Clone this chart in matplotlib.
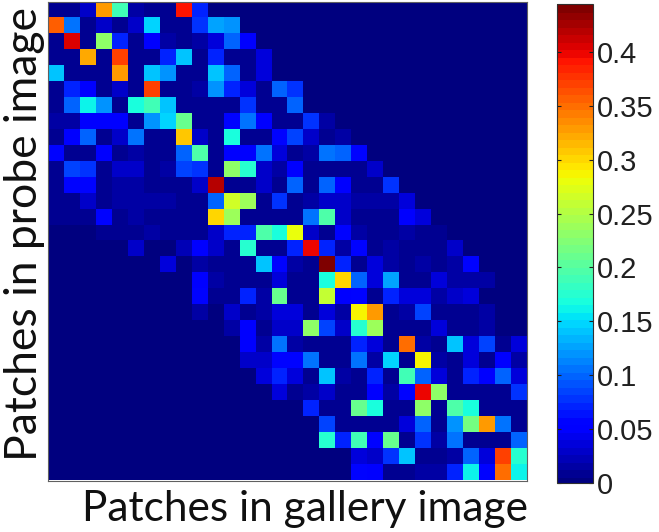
import numpy as np
import matplotlib
matplotlib.use("Agg")
import matplotlib.pyplot as plt

row_00 = [.01, .01, .03, .33, .19, .02, .01, .01, .39, .07]
row_01 = [.36, .11, .01, .03, .01, .03, .15, .01, .01, .08, .13, .12]
row_02 = [.01, .41, .01, .23, .07, .01, .05, .02, .01, .02, .04, .10, .05]
row_03 = [.01, .01, .32, .01, .37, .01, .01, .07, .14, .01, .07, .01, .01, .04]
row_04 = [.14, .01, .01, .01, .33, .01, .14, .12, .01, .01, .14, .10, .01, .04]
row_05 = [.01, .07, .05, .01, .03, .01, .37, .01, .01, .02, .12, .07, .04, .01, .10, .08]
row_06 = [.01, .10, .16, .12, .01, .17, .19, .14, .01, .01, .01, .01, .08, .01, .01, .10]
row_07 = [.02, .02, .05, .05, .05, .01, .12, .15, .21, .01, .01, .06, .11, .05, .01, .01, .08, .02]
row_08 = [.01, .05, .10, .01, .03, .11, .01, .01, .31, .03, .01, .17, .01, .01, .06, .09, .03, .01, .02]
row_09 = [.06, .01, .01, .05, .01, .02, .01, .01, .10, .20, .01, .05, .05, .11, .04, .01, .02, .11, .10, .06]
row_10 = [.01, .09, .08, .01, .03, .03, .01, .02, .09, .08, .01, .23, .18, .03, .02, .05, .01, .01, .01, .01, .03]
row_11 = [.01, .06, .06, .01, .02, .02, .01, .01, .01, .03, .42, .01, .01, .03, .01, .10, .01, .10, .05, .01, .01, .08]
row_12 = [.01, .01, .03, .01, .02, .02, .02, .02, .01, .01, .10, .27, .24, .01, .08, .01, .02, .03, .03, .02, .02, .02, .04]
row_13 = [.01, .01, .01, .06, .01, .02, .01, .01, .01, .01, .30, .24, .01, .01, .01, .01, .11, .20, .03, .01, .01, .01, .05, .04]
row_14 = [0, 0, 0, .01, .01, .01, .02, .01, .01, .01, .03, .07, .07, .20, .17, .28, .03, .01, .06, .02, .01, .01, .02, .01, .01]
row_15 = [0] * 5 + [.03, .005, .005, .025, .05, .03, .01, .18, .01, .01, .07, .40, .07, .02, .06, .01, .02, .01, .01, .01, .03]
row_16 = [0] * 7 + [.04, .005, .02, .01, .01, .01, .14, .06, .02, .01, .445, .07, .01, .04, .02, .01, .02, .01, .02, .06]
row_17 = [0] * 9 + [.05, .02, .01, .01, .01, .04, .01, .01, .17, .30, .10, .04, .13, .01, .01, .04, .02, .015, .015]
row_18 = [0] * 9 + [.06, .01, .01, .07, .02, .21, .01, .01, .26, .05, .06, .01, .07, .04, .04, .02, .03, .04]
row_19 = [0] * 9 + [.015, .005, .03, .01, .02, .04, .04, .01, .04, .02, .29, .33, .01, .02, .09, .01, .01, .01, .02]
row_20 = [0] * 11 + [.02, .05, .01, .03, .03, .23, .09, .03, .18, .24, .01, .01, .01, .04, .01, .01, .02]
row_21 = [0] * 12 + [.05, .02, .11, .015, .01, .01, .01, .07, .04, .01, .35, .02, .01, .14, .04, .09, .01, .04]
row_22 = [0] * 12 + [.03, .03, .06, .06, .11, .01, .01, .11, .02, .15, .01, .29, .02, .01, .04, .01, .05, .02]
row_23 = [0] * 13 + [.04, .07, .04, .01, .14, .02, .01, .07, .01, .19, .10, .04, .01, .07, .05, .10, .04]
row_24 = [0] * 14 + [.04, .01, .02, .03, .01, .01, .05, .02, .06, .40, .23, .01, .01, .01, .01, .08]
row_25 = [0] * 16 + [.07, .01, .01, .21, .17, .01, .01, .23, .01, .20, .17, .01, .01, .01]
row_26 = [0] * 17 + [.09, .01, .01, .01, .01, .04, .10, .01, .12, .22, .33, .11, .01]
row_27 = [0] * 17 + [.18, .07, .19, .06, .21, .01, .08, .02, .11, .01, .01, .01, .10]
row_28 = [0] * 19 + [.04, .03, .08, .14, .01, .01, .02, .10, .04, .37, .18]
row_29 = [0] * 19 + [.06, .05, .01, .01, .02, .02, .07, .16, .06, .35, .16]

filas = [row_00, row_01, row_02, row_03, row_04, row_05, row_06, row_07, row_08, row_09,
         row_10, row_11, row_12, row_13, row_14, row_15, row_16, row_17, row_18, row_19,
         row_20, row_21, row_22, row_23, row_24, row_25, row_26, row_27, row_28, row_29]

ticks_barra = [0, 0.05, 0.1, 0.15, 0.2, 0.25, 0.3, 0.35, 0.4]
etiquetas_barra = ["0", "0.05", "0.1", "0.15", "0.2", "0.25", "0.3", "0.35", "0.4"]
valor_max = 0.445

matriz = np.array([f + [0] * (30 - len(f)) for f in filas])

W, H = 659, 532
fig = plt.figure(figsize=(W / 100, H / 100), dpi=100)

def caja(x0, y0, x1, y1):
    # caja en pixeles de la imagen -> coordenadas de figura
    return [x0 / W, 1 - y1 / H, (x1 - x0) / W, (y1 - y0) / H]

ax = fig.add_axes(caja(48, 1.5, 526.5, 480.5))
im = ax.imshow(matriz, cmap=plt.get_cmap("jet", 64), vmin=0, vmax=valor_max,
               aspect="auto", interpolation="nearest")
ax.set_xticks([])
ax.set_yticks([])
for s in ax.spines.values():
    s.set_color("#606060")
    s.set_linewidth(0.8)

# barra de color
cax = fig.add_axes(caja(556.5, 3.5, 593, 483))
cb = fig.colorbar(im, cax=cax)
cb.set_ticks(ticks_barra)
cb.set_ticklabels(etiquetas_barra, fontfamily="Liberation Sans", fontsize=21, color="#202020")
cb.ax.tick_params(length=3, width=0.8, direction="in", pad=3, left=True, right=True, color="#202020")
cb.outline.set_edgecolor("#303030")
cb.outline.set_linewidth(0.8)
cb.solids.set_edgecolor("face")

fig.text(305 / W, 1 - 509 / H, "Patches in gallery image", family="Lato", fontsize=30.5,
         ha="center", va="center", color="#101010")
fig.text(25 / W, 1 - 234 / H, "Patches in probe image", family="Lato", fontsize=32,
         rotation=90, ha="center", va="center", color="#101010")

fig.savefig("out.png", dpi=100)
